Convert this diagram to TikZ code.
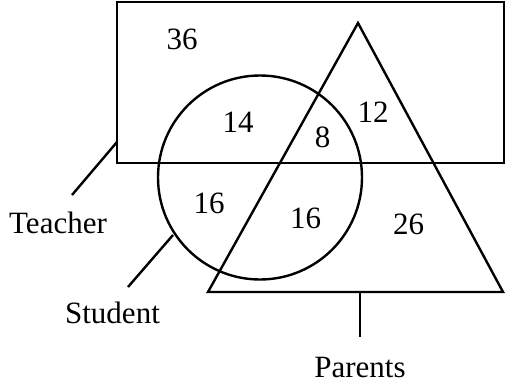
\documentclass[tikz,border=0pt]{standalone}
\usepackage{fontspec}
\setmainfont{Liberation Serif}
\usepackage{tikz}

\begin{document}
\begin{tikzpicture}[x=1pt,y=-1pt]
\tikzstyle{num}= [inner sep=0pt, font=\fontsize{31}{36}\selectfont]
\tikzstyle{lab}= [inner sep=0pt, anchor=base, font=\fontsize{31}{36}\selectfont]
\useasboundingbox (0,0) rectangle (506,388);
%sets
\draw[line width=2.4pt] (117,2) rectangle (504,163);
\draw[line width=2.4pt] (358,23) -- (503,292) -- (208,292) -- cycle;
\draw[line width=2.4pt] (260,177.5) circle (102);
%numbers
\node[num] (n1) at (182,39) {36};
\node[num] (n2) at (238,122.5) {14};
\node[num] (n3) at (322.5,137.5) {8};
\node[num] (n4) at (373,112) {12};
\node[num] (n5) at (209,203.5) {16};
\node[num] (n6) at (305.5,218) {16};
\node[num] (n7) at (408.5,224) {26};
%labels
\node[lab] (t) at (58,233) {Teacher};
\node[lab] (s) at (112.5,323) {Student};
\node[lab] (p) at (360,377) {Parents};
\coordinate (ta) at (117,142);
\coordinate (tb) at (72,195);
\coordinate (sa) at (173,235);
\coordinate (sb) at (128,287);
\coordinate (pa) at (360,292);
\coordinate (pb) at (360,337);
\draw[line width=2.4pt] (ta) -- (tb);
\draw[line width=2.4pt] (sa) -- (sb);
\draw[line width=2.4pt] (pa) -- (pb);
\end{tikzpicture}
\end{document}
